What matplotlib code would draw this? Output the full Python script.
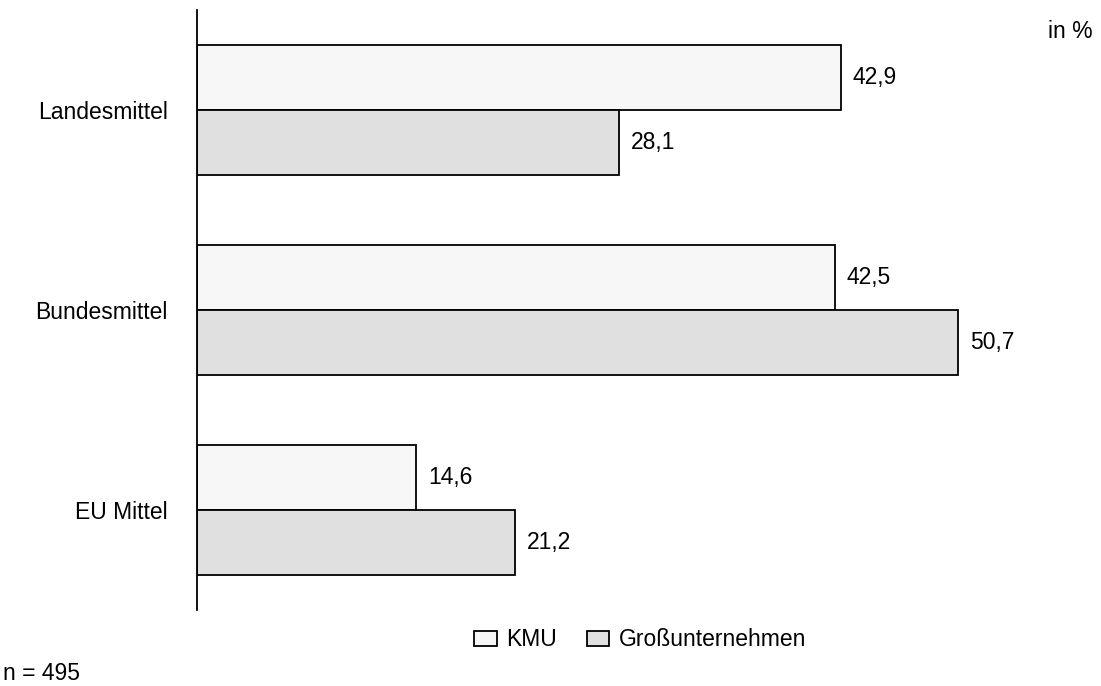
import matplotlib.pyplot as plt
from matplotlib.patches import Patch

plt.rcParams['font.family'] = ['Liberation Sans', 'DejaVu Sans']

categories = ['Landesmittel', 'Bundesmittel', 'EU Mittel']
kmu = [42.9, 42.5, 14.6]
gross = [28.1, 50.7, 21.2]
series_names = ['KMU', 'Großunternehmen']

fs = 16.5
fig = plt.figure(figsize=(11.01, 6.86), dpi=100)
ax = fig.add_axes([197/1101, 76/686, 803/1101, 600/686])

pos = [2.5, 1.5, 0.5]
h = 0.325
ax.barh([p + h/2 for p in pos], kmu, height=h, color='#f7f7f7', edgecolor='black', linewidth=1.3)
ax.barh([p - h/2 for p in pos], gross, height=h, color='#e0e0e0', edgecolor='black', linewidth=1.3)

for p, a, b in zip(pos, kmu, gross):
    ax.text(a + 0.8, p + h/2, f'{a:.1f}'.replace('.', ','), va='center', ha='left', fontsize=fs)
    ax.text(b + 0.8, p - h/2, f'{b:.1f}'.replace('.', ','), va='center', ha='left', fontsize=fs)

ax.set_xlim(0, 803/15.01)
ax.set_ylim(0, 3)
ax.set_yticks(pos)
ax.set_yticklabels(categories, fontsize=fs)
ax.tick_params(axis='y', length=0, pad=21)
ax.set_xticks([])
for s in ['top', 'right', 'bottom']:
    ax.spines[s].set_visible(False)
ax.spines['left'].set_linewidth(1.3)

fig.text(1093/1101, 1 - 32/686, 'in %', ha='right', va='center', fontsize=fs)
fig.text(3/1101, 1 - 674/686, 'n = 495', ha='left', va='center', fontsize=fs)

handles = [Patch(facecolor='#f7f7f7', edgecolor='black', linewidth=1.3),
           Patch(facecolor='#e0e0e0', edgecolor='black', linewidth=1.3)]
fig.legend(handles, series_names, loc='center', bbox_to_anchor=(640/1101, 1 - 640/686),
           ncol=2, frameon=False, fontsize=fs, handlelength=1.0, handleheight=0.6,
           handletextpad=0.4, columnspacing=1.3)

fig.savefig('out.png', dpi=100)
